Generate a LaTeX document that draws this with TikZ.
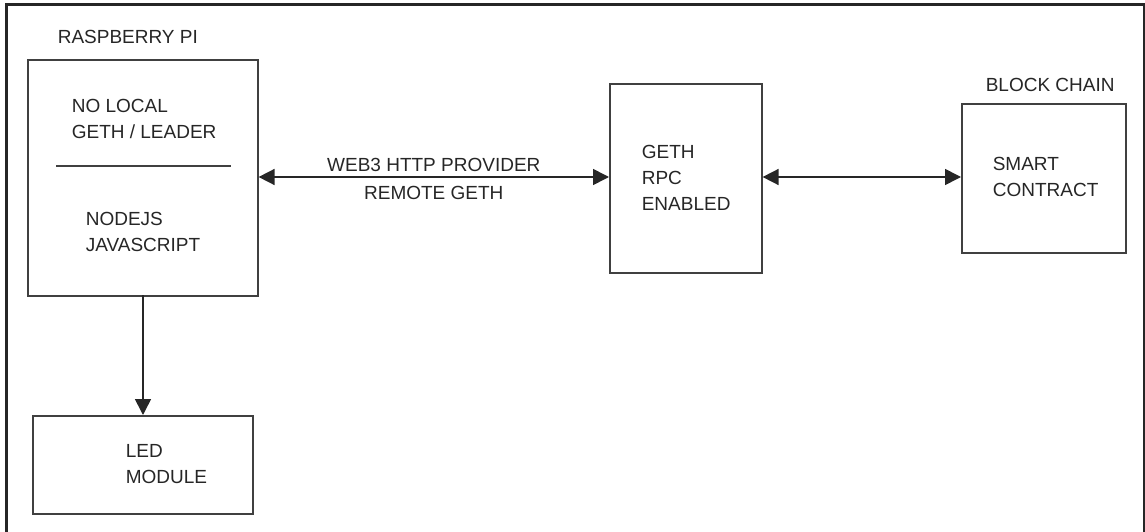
\documentclass[tikz,border=0pt]{standalone}
\usepackage{fontspec}
\setmainfont{Liberation Sans}
\usetikzlibrary{arrows.meta, positioning}

\begin{document}
\begin{tikzpicture}[
        x=1pt, y=-1pt,
        line width=1.6pt, draw=black!75,
        box/.style={rectangle, draw, anchor=north west, inner sep=0pt},
        txt/.style={anchor=west, align=left, inner sep=0pt, text=black!85,
            font=\fontsize{19}{26}\selectfont},
        link/.style={{Triangle[length=16pt,width=16pt]}-{Triangle[length=16pt,width=16pt]}, draw=black!85}
    ]
    \useasboundingbox (0,0) rectangle (1145,532);
    % frame
    \draw[line width=3pt, black!85] (6,532) -- (6,5) -- (1144,5) -- (1144,532);

    \node[box, minimum width=230pt, minimum height=236pt] (rpi) at (27,59) {};
    \node[box, minimum width=220pt, minimum height=98pt] (led) at (32,415) {};
    \node[box, minimum width=152pt, minimum height=189pt] (geth) at (609,83) {};
    \node[box, minimum width=164pt, minimum height=149pt] (chain) at (961,103) {};

    \node[txt] (rpilabel) at (57,37) {RASPBERRY PI};
    \node[txt] (chainlabel) at (985,85) {BLOCK CHAIN};

    \node[txt] (nolocal) at (71,119) {NO LOCAL\\GETH / LEADER};
    \node[txt] (nodejs) at (85,232) {NODEJS\\JAVASCRIPT};
    \node[txt] (ledtext) at (125,464) {LED\\MODULE};
    \node[txt] (gethtext) at (641,178) {GETH\\RPC\\ENABLED};
    \node[txt] (smart) at (992,177) {SMART\\CONTRACT};

    \coordinate (sepL) at (56,166);
    \coordinate (sepR) at (231,166);
    \draw (sepL) -- (sepR);

    \draw[link] (rpi.east |- 0,177) -- node[txt, anchor=south, above=5pt] (web3) {WEB3 HTTP PROVIDER}
        node[txt, anchor=north, below=8pt] (remote) {REMOTE GETH} (geth.west |- 0,177);
    \draw[link] (geth.east |- 0,177) -- (chain.west |- 0,177);
    \draw[-{Triangle[length=16pt,width=16pt]}, draw=black!85] (143,295) -- (led.north -| 143,0);
\end{tikzpicture}
\end{document}
